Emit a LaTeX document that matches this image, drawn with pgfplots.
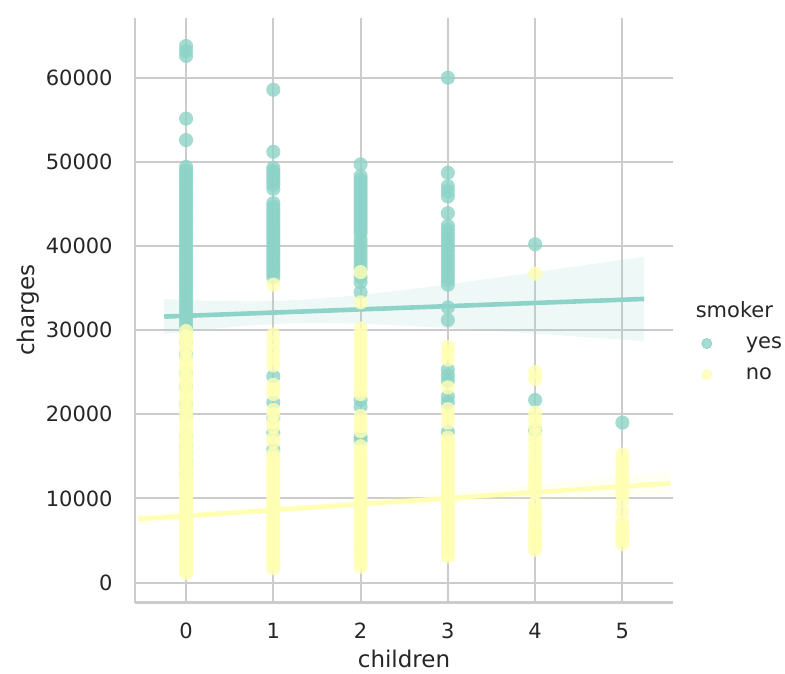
\documentclass[border=0pt]{standalone}
\usepackage{pgfplots}
\pgfplotsset{compat=1.18}
\usepackage{fontspec}
\setmainfont{DejaVu Sans}
\definecolor{cyes}{RGB}{141,211,199}
\definecolor{cno}{RGB}{255,255,179}
\definecolor{gridc}{RGB}{204,204,204}
\definecolor{txt}{RGB}{38,38,38}
\begin{document}
\begin{tikzpicture}
\begin{axis}[
  at={(0,0)}, anchor=south west,
  scale only axis, width=269pt, height=292.35pt,
  xmin=-0.585, xmax=5.58, ymin=-2400, ymax=67100,
  scaled x ticks=false, scaled y ticks=false,
  axis x line*=bottom, axis y line*=left,
  axis line style={gridc, line width=1.25pt},
  major tick length=0pt,
  grid=major, major grid style={gridc, line width=1pt},
  xtick={0,1,2,3,4,5}, xticklabels={0,1,2,3,4,5},
  ytick={0,10000,20000,30000,40000,50000,60000},
  yticklabels={0,10000,20000,30000,40000,50000,60000},
  ticklabel style={font=\fontsize{10.5}{12}\selectfont, text=txt},
  xticklabel style={anchor=north, inner sep=0pt, yshift=-10pt},
  yticklabel style={anchor=east, inner sep=0pt, xshift=-11pt},
  xlabel={children}, ylabel={charges},
  every axis x label/.style={at={(axis description cs:0.5,-0.0807)}, anchor=north, inner sep=0pt,
    font=\fontsize{11.5}{13}\selectfont, text=txt},
  every axis y label/.style={at={(axis description cs:-0.177,0.5)}, rotate=90, anchor=south, inner sep=0pt,
    font=\fontsize{11.5}{13}\selectfont, text=txt},
  legend style={at={(axis description cs:1.052,0.514)}, anchor=north west, draw=none, fill=none,
    inner sep=0pt, row sep=5.5pt, font=\fontsize{10.5}{12.6}\selectfont, text=txt,
    nodes={inner sep=0pt, text height=7.6pt, text depth=2.4pt}},
  legend cell align=left,
]
% smoker = yes : scatter
\addplot[forget plot, only marks, mark=*, mark size=3.54pt,
  mark options={fill=cyes, draw=cyes, fill opacity=0.8, draw opacity=0, line width=0pt}]
coordinates {
(0,63770) (0,63150) (0,62590) (0,55140) (0,52590)
(0,49400) (0,49000) (0,48700) (0,48300) (0,47900) (0,47500) (0,47100) (0,46700) (0,46300) (0,45900)
(0,45500) (0,45100) (0,44700) (0,44300) (0,43900) (0,43500) (0,43100) (0,42700) (0,42300) (0,41900)
(0,41500) (0,41100) (0,40700) (0,40300) (0,39900) (0,39500) (0,39100) (0,38700) (0,38300) (0,37900)
(0,37500) (0,37100) (0,36700) (0,36300) (0,35900) (0,35500) (0,35100) (0,34700) (0,34300) (0,33900)
(0,33500) (0,33100) (0,32700) (0,32300) (0,31900) (0,31500) (0,31100) (0,30700) (0,30300) (0,29900)
(0,28600) (0,27200) (0,26900) (0,24900) (0,23300) (0,21200) (0,19900) (0,17300) (0,16300) (0,15400)
(0,14400) (0,13800) (0,12800)
(1,58570) (1,51200) (1,49300) (1,48900) (1,48500) (1,48100) (1,47700) (1,47300) (1,46800)
(1,45100) (1,44700) (1,44300) (1,43900) (1,43500) (1,43100) (1,42700) (1,42300) (1,41900) (1,41500)
(1,41100) (1,40700) (1,40300) (1,39900) (1,39500) (1,39100) (1,38700) (1,38300) (1,37900) (1,37500)
(1,37100) (1,36700) (1,36300) (1,24500) (1,21400) (1,19600) (1,17800) (1,15800)
(2,49700) (2,48300) (2,47900) (2,47500) (2,47100) (2,46700) (2,46300) (2,45900) (2,45500) (2,45100)
(2,44700) (2,44300) (2,43900) (2,43500) (2,43100) (2,42700) (2,42300) (2,41900) (2,41500)
(2,40800) (2,40300) (2,39800) (2,39300) (2,38800) (2,38300) (2,37800) (2,37300) (2,36300) (2,35700)
(2,34500) (2,21700) (2,20900) (2,17300) (2,16900)
(3,60000) (3,48700) (3,47100) (3,46500) (3,45900) (3,43900) (3,42400) (3,41900) (3,41400) (3,40900)
(3,40400) (3,39900) (3,39400) (3,38900) (3,38400) (3,37900) (3,37400) (3,36900) (3,36400) (3,35900)
(3,35400) (3,32700) (3,31200) (3,25300) (3,24600) (3,24000) (3,22100) (3,21400) (3,17900)
(4,40200) (4,21700) (4,18100)
(5,19000)
};
% smoker = yes : confidence band
\addplot[forget plot, draw=none, fill=cyes, fill opacity=0.15] coordinates {
(-0.25,29508) (0.25,30101) (0.75,30560) (1.11,30762) (1.5,30837) (2,30749) (2.5,30532) (3,30246)
(3.5,29923) (4,29578) (4.5,29220) (5,28852) (5.25,28667)
(5.25,38744) (5,38368) (4.5,37618) (4,36878) (3.5,36151) (3,35445) (2.5,34778) (2,34179)
(1.5,33709) (1.11,33486) (0.75,33413) (0.25,33490) (-0.25,33701)
};
% smoker = no : scatter
\addplot[forget plot, only marks, mark=*, mark size=3.54pt,
  mark options={fill=cno, draw=cno, fill opacity=0.8, draw opacity=0, line width=0pt}]
coordinates {
(0,1100) (0,1500) (0,1900) (0,2300) (0,2700) (0,3100) (0,3500) (0,3900) (0,4300) (0,4700)
(0,5100) (0,5500) (0,5900) (0,6300) (0,6700) (0,7100) (0,7500) (0,7900) (0,8300) (0,8700)
(0,9100) (0,9500) (0,9900) (0,10300) (0,10700) (0,11100) (0,11500) (0,11900) (0,12300) (0,12700)
(0,13100) (0,13500) (0,13900) (0,14300) (0,14800) (0,15300) (0,15800) (0,16300) (0,16800) (0,17200)
(0,17700) (0,18300) (0,18900) (0,19500)
(0,20100) (0,20700) (0,21300) (0,21900) (0,22500) (0,23100) (0,23700) (0,24300) (0,24900) (0,25600)
(0,26200) (0,26800) (0,27600) (0,28200) (0,28800) (0,29300) (0,29900)
(1,1700) (1,2100) (1,2500) (1,2900) (1,3300) (1,3700) (1,4100) (1,4500) (1,4900) (1,5300)
(1,5700) (1,6100) (1,6500) (1,6900) (1,7300) (1,7700) (1,8100) (1,8500) (1,8900) (1,9300)
(1,9700) (1,10100) (1,10500) (1,10900) (1,11300) (1,11700) (1,12100) (1,12500) (1,12900) (1,13300)
(1,13700) (1,14100) (1,14500) (1,14900) (1,15300) (1,16700) (1,17200) (1,18500) (1,19000) (1,20000) (1,20500)
(1,22400) (1,22900) (1,23500) (1,25800) (1,26600) (1,27500) (1,28500) (1,29500) (1,35400)
(2,1900) (2,2300) (2,2700) (2,3100) (2,3500) (2,3900) (2,4300) (2,4700) (2,5100) (2,5500)
(2,5900) (2,6300) (2,6700) (2,7100) (2,7500) (2,7900) (2,8300) (2,8700) (2,9100) (2,9500)
(2,9900) (2,10300) (2,10700) (2,11100) (2,11500) (2,11900) (2,12300) (2,12700) (2,13100) (2,13500)
(2,13900) (2,14300) (2,14700) (2,15100) (2,15600) (2,16200) (2,18000) (2,18600) (2,19200) (2,19800)
(2,22400) (2,22800) (2,23400)
(2,24000) (2,24600) (2,25200) (2,25800) (2,26400) (2,27000) (2,27600) (2,28200) (2,28800) (2,29400)
(2,30200) (2,33300) (2,36900)
(3,3100) (3,3500) (3,3900) (3,4300) (3,4700) (3,5100) (3,5500) (3,5900) (3,6300) (3,6700)
(3,7100) (3,7500) (3,7900) (3,8300) (3,8700) (3,9100) (3,9500) (3,9900) (3,10300) (3,10700)
(3,11100) (3,11500) (3,11900) (3,12300) (3,12700) (3,13100) (3,13500) (3,13900) (3,14300) (3,14700)
(3,15100) (3,15500) (3,15900) (3,16300) (3,16700) (3,17200) (3,19000) (3,19800) (3,20600) (3,23200)
(3,26500) (3,27300) (3,28000)
(4,3900) (4,4300) (4,4800) (4,5300) (4,5800) (4,6300) (4,6900) (4,7500) (4,8100) (4,8600)
(4,9400) (4,10700) (4,11300) (4,11900) (4,12500) (4,13100) (4,13700) (4,14400) (4,15200) (4,16000)
(4,16800) (4,17600) (4,18500) (4,19300) (4,20200) (4,24200) (4,25000) (4,36700)
(5,4600) (5,5100) (5,5600) (5,6100) (5,6600) (5,7100) (5,8400) (5,9800) (5,10600) (5,11200)
(5,11800) (5,12400) (5,13000) (5,13700) (5,14400) (5,15200)
};
% smoker = no : confidence band
\addplot[forget plot, draw=none, fill=cno, fill opacity=0.15] coordinates {
(-0.55,6929) (0,7436) (0.5,7870) (1.09,8323) (1.5,8590) (2,8870) (2.5,9118) (3,9349) (3.5,9569)
(4,9784) (4.5,9996) (5,10205) (5.55,10433)
(5.55,13177) (5,12635) (4.5,12144) (4,11656) (3.5,11171) (3,10691) (2.5,10222) (2,9770) (1.5,9350)
(1.09,9043) (0.5,8670) (0,8404) (-0.55,8141)
};
% regression lines
\addplot[forget plot, cyes, line width=2.3pt] coordinates {(-0.25,31604) (5.25,33706)};
\addplot[forget plot, cno, line width=2.3pt] coordinates {(-0.55,7535) (5.55,11805)};
% legend
\addlegendimage{empty legend}
\addlegendentry{\hspace*{-25pt}smoker}
\addlegendimage{legend image code/.code={\fill[cyes, fill opacity=0.8] (0pt,0pt) circle (2.5pt); \path[draw=none, fill=none] (-2.5pt,0pt) (19.5pt,0pt);}}
\addlegendentry{yes}
\addlegendimage{legend image code/.code={\fill[cno, fill opacity=0.8] (0pt,0pt) circle (2.5pt); \path[draw=none, fill=none] (-2.5pt,0pt) (19.5pt,0pt);}}
\addlegendentry{no}
\end{axis}
\pgfresetboundingbox
\useasboundingbox (-67.5pt,-35.15pt) rectangle (325pt,301.35pt);
\end{tikzpicture}
\end{document}
